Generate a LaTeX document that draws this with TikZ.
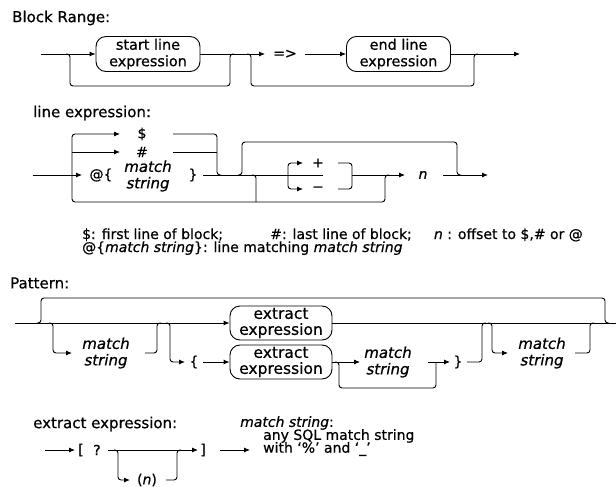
\documentclass[tikz,border=0pt]{standalone}
\usepackage{fontspec}
\setmainfont{DejaVu Sans}[UprightFeatures={FakeBold=0.6},ItalicFeatures={FakeBold=0.6}]
\usetikzlibrary{arrows.meta}
\begin{document}
\begin{tikzpicture}[x=1pt,y=-1pt,
  every node/.style={font=\fontsize{14}{16}\selectfont, inner sep=0pt},
  ln/.style={line width=0.9pt, rounded corners=3pt},
  ar/.style={ln, -{Latex[length=6pt,width=5pt]}},
  box/.style={draw, line width=0.9pt, rounded corners=10pt, minimum width=104pt, minimum height=35pt, align=center, font=\fontsize{14.4}{16.5}\selectfont},
  pbox/.style={box, minimum width=102pt, minimum height=34pt, font=\fontsize{15.5}{16}\selectfont},
  ttl/.style={anchor=west, font=\fontsize{15}{17}\selectfont},
  two/.style={align=center, font=\fontsize{15}{16.5}\selectfont\itshape},
  note/.style={anchor=base west, font=\fontsize{14}{16}\selectfont}]
\useasboundingbox[fill=white] (0,0) rectangle (616,487);

% ---------------- Block Range
\node[ttl] (t1) at (12,18) {Block Range:};
\node[box] (sle) at (148,54) {start line\\expression};
\node[box] (ele) at (398.5,54) {end line\\expression};
\node (imp) at (285,54) {=>};
\coordinate (b0) at (41,54);
\coordinate (b1) at (520,54);
\draw[ar] (b0) -- (sle.west);
\draw[ar] (sle.east) -- (265,54);
\draw[ar] (305,54) -- (ele.west);
\draw[ar] (ele.east) -- (b1);
\draw[ln] (66,54) -- (70,54) -- (70,86) -- (230,86) -- (230,54) -- (234,54);
\draw[ln] (247,54) -- (251,54) -- (251,86) -- (474,86) -- (474,54) -- (478,54);

% ---------------- line expression
\node[ttl] (t2) at (33,113) {line expression:};
\coordinate (l0) at (33,175);
\draw[ar] (l0) -- (82,175);
\node (atb) at (101,175) {@\{};
\node[two] (ms1) at (148,176) {match\\string};
\node (cb1) at (193,175) {\}};
\node (dol) at (142,134) {\$};
\node (hsh) at (142,152) {\#};
\draw[ar] (72,175) -- (72,134) -- (120,134);
\draw[ar] (72,152) -- (120,152);
\draw[ln] (173,134) -- (217,134) -- (217,175) -- (221,175);
\draw[ln] (173,152) -- (217,152);
\draw[ln] (72,175) -- (72,202) -- (385,202) -- (385,175) -- (389,175);
\draw[ln] (203,175) -- (288,175);
\draw[ln] (252,175) -- (256,175) -- (256,202);
\draw[ln] (238,175) -- (242,175) -- (242,142) -- (457,142) -- (457,175) -- (461,175);
\draw[ar] (288,175) -- (288,163) -- (303,163);
\draw[ar] (288,175) -- (288,189) -- (303,189);
\draw[ln] (288,175) -- (323,175);
\node (pl) at (318,163) {+};
\node (mi) at (318,189) {−};
\draw[ln] (338,163) -- (352,163) -- (352,175);
\draw[ln] (338,189) -- (352,189) -- (352,175);
\draw[ar] (352,175) -- (405,175);
\node (nn) at (423,175) {\textit{n}};
\draw[ar] (443,175) -- (488,175);

\node[note] (n1a) at (82,239) {\$: first line of block;};
\node[note] (n1b) at (270,239) {\#: last line of block;};
\node[note, anchor=base east] (n1c) at (583,239) {\textit{n} : offset to \$,\# or @};
\node[note] (n2) at (82,252) {@\{\textit{match string}\}: line matching \textit{match string}};

% ---------------- Pattern
\node[ttl] (t3) at (10,283) {Pattern:};
\node[pbox] (ee1) at (281,323) {extract\\expression};
\node[pbox] (ee2) at (281,362) {extract\\expression};
\draw[ar] (15,323) -- (ee1.west);
\draw[ln] (ee1.east) -- (616,323);
\draw[ln] (37,323) -- (41,323) -- (41,298) -- (605,298) -- (605,323) -- (609,323);
\draw[ar] (49,323) -- (53,323) -- (53,353) -- (72,353);
\node[two] (ms2) at (106,353) {match\\string};
\draw[ln] (145,353) -- (157,353) -- (157,323) -- (161,323);
\draw[ar] (166,323) -- (170,323) -- (170,362) -- (185,362);
\node (ob) at (194,362) {\{};
\draw[ar] (203,362) -- (ee2.west);
\draw[ar] (ee2.east) -- (360,362);
\node[two] (ms3) at (388,362) {match\\string};
\draw[ln] (335,362) -- (339,362) -- (339,388) -- (436,388) -- (436,362);
\draw[ar] (428,362) -- (450,362);
\node (cb2) at (458,362) {\}};
\draw[ln] (467,362) -- (482,362) -- (482,323) -- (486,323);
\draw[ar] (488,323) -- (492,323) -- (492,353) -- (508,353);
\node[two] (ms4) at (542,353) {match\\string};
\draw[ln] (575,353) -- (590,353) -- (590,323) -- (594,323);

% ---------------- extract expression
\node[ttl] (t4) at (33,424) {extract expression:};
\draw[ar] (45,450) -- (75,450);
\node (lb) at (81,450) {[};
\node (qm) at (97,450) {?};
\draw[ar] (108,450) -- (198,450);
\node (rb) at (203,450) {]};
\draw[ar] (220,450) -- (250,450);
\draw[ar] (114,450) -- (118,450) -- (118,480) -- (130,480);
\node (on) at (147,480) {(\textit{n})};
\draw[ln] (166,480) -- (177,480) -- (177,450) -- (181,450);

\node[anchor=west, font=\fontsize{14}{16}\selectfont] (m1) at (240,423) {\textit{match string}:};
\node[anchor=west, font=\fontsize{14}{16}\selectfont] (m2) at (263,436) {any SQL match string};
\node[anchor=west, font=\fontsize{14}{16}\selectfont] (m3) at (263,449) {with `\%' and `\_'};
\end{tikzpicture}
\end{document}
